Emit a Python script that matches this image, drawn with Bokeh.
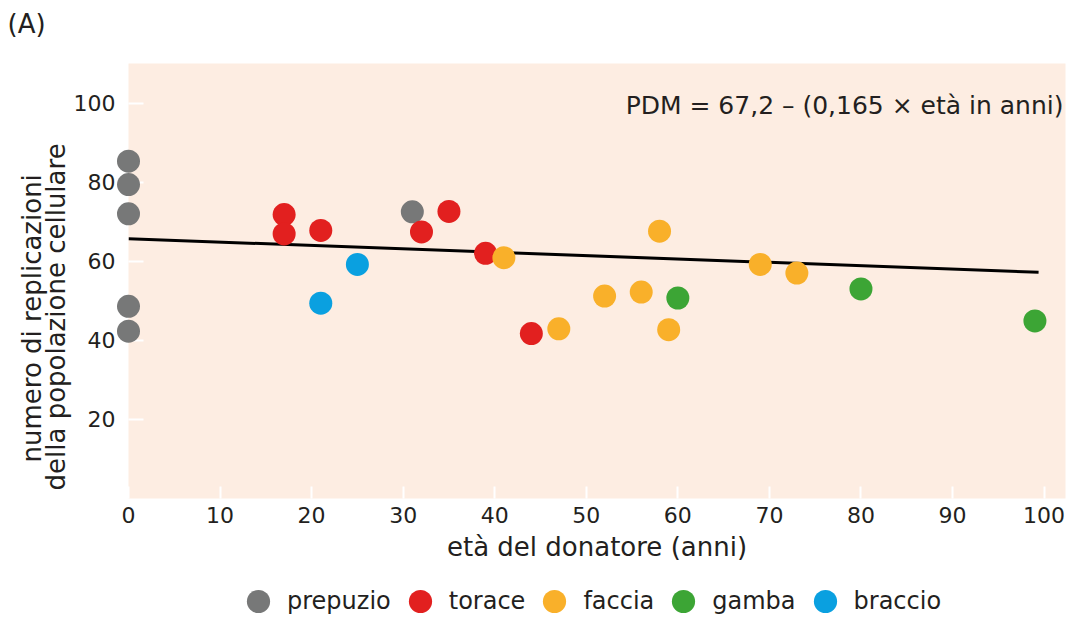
from bokeh.plotting import figure
from bokeh.layouts import column
from bokeh.models import Label, Legend, LegendItem, Range1d, FixedTicker, Title
from bokeh.embed import file_html
from bokeh.resources import INLINE

# ---- data ----
prepuzio_x = [0, 0, 0, 0, 0, 31]
prepuzio_y = [85.3, 79.4, 72.0, 48.6, 42.3, 72.5]
torace_x = [17, 17, 21, 32, 35, 39, 44]
torace_y = [71.8, 66.9, 67.8, 67.4, 72.6, 62.0, 41.7]
faccia_x = [41, 47, 52, 56, 58, 59, 69, 73]
faccia_y = [60.9, 42.9, 51.2, 52.2, 67.6, 42.7, 59.2, 57.0]
gamba_x = [60, 80, 99]
gamba_y = [50.7, 53.0, 44.9]
braccio_x = [21, 25]
braccio_y = [49.4, 59.2]
fit_x = [0, 99.4]
fit_y = [65.7, 57.2]
x_ticks = [0, 10, 20, 30, 40, 50, 60, 70, 80, 90, 100]
y_ticks = [20, 40, 60, 80, 100]
categories = ["prepuzio", "torace", "faccia", "gamba", "braccio"]
colors = ["#777878", "#e2201f", "#f9b02a", "#3ca535", "#0aa0e0"]

FONT = "DejaVu Sans"
TXT = "#231f20"
FS = "22px"
FT = "26px"
W = 1067


def title(text, **kw):
    return Title(text=text, text_font=FONT, text_font_size=kw.pop("size", FT),
                 text_font_style="normal", text_color=TXT, **kw)


def strip(height, top_border=0):
    f = figure(width=W, height=height, output_backend="svg", toolbar_location=None,
               x_range=Range1d(0, 1), y_range=Range1d(0, 1),
               x_axis_location=None, y_axis_location=None,
               min_border_left=0, min_border_right=0,
               min_border_top=top_border, min_border_bottom=0)
    f.outline_line_color = None
    f.grid.visible = False
    f.background_fill_color = "white"
    f.border_fill_color = "white"
    return f


# ---- top strip with the panel letter ----
top = strip(40, top_border=38)
top.title = title("(A)", align="left", offset=-121, standoff=0)

# ---- main chart ----
p = figure(width=W, height=532, output_backend="svg", toolbar_location=None,
           x_range=Range1d(0, 102.34), y_range=Range1d(0, 110),
           min_border_left=128, min_border_right=2, min_border_top=23, min_border_bottom=74)
p.background_fill_color = "#fdede2"
p.border_fill_color = "white"
p.outline_line_color = None
p.grid.visible = False

for ax in (p.xaxis[0], p.yaxis[0]):
    ax.axis_line_color = None
    ax.major_tick_line_color = "white"
    ax.major_tick_line_width = 2
    ax.major_tick_out = 0
    ax.minor_tick_line_color = None
    ax.major_label_text_font = FONT
    ax.major_label_text_font_size = FS
    ax.major_label_text_color = TXT

p.xaxis.ticker = FixedTicker(ticks=x_ticks)
p.yaxis.ticker = FixedTicker(ticks=y_ticks)
p.xaxis.major_tick_in = 12
p.yaxis.major_tick_in = 15
p.yaxis.major_label_standoff = 13
p.xaxis.major_label_standoff = 8
p.xaxis.axis_label = "età del donatore (anni)"
p.xaxis.axis_label_text_font = FONT
p.xaxis.axis_label_text_font_size = FT
p.xaxis.axis_label_text_font_style = "normal"
p.xaxis.axis_label_text_color = TXT
p.xaxis.axis_label_standoff = 6

# y-axis label: two stacked titles in the left panel
p.add_layout(title("della popolazione cellulare", align="left", offset=8, standoff=0), "left")
p.add_layout(title("numero di replicazioni", align="left", offset=36, standoff=-16), "left")

p.line(fit_x, fit_y, line_color="black", line_width=3)

S = 23
series = [(prepuzio_x, prepuzio_y), (torace_x, torace_y), (faccia_x, faccia_y),
          (gamba_x, gamba_y), (braccio_x, braccio_y)]
for (xs, ys), c in zip(series, colors):
    p.scatter(xs, ys, size=S, fill_color=c, line_color=None, level="annotation")

p.add_layout(Label(x=102.12, y=99.4, text="PDM = 67,2 – (0,165 × età in anni)",
                   text_align="right", text_baseline="middle", text_font=FONT,
                   text_font_size="25px", text_color=TXT))

# ---- legend strip ----
bot = strip(45, top_border=13)
items = []
for cat, (xs, ys), c in zip(categories, series, colors):
    r = bot.scatter(xs, ys, size=S, fill_color=c, line_color=None, visible=False)
    items.append(LegendItem(label=cat, renderers=[r]))
legend = Legend(items=items, orientation="horizontal", location=(101, -13),
                glyph_width=58, glyph_height=58, label_standoff=0, spacing=0,
                padding=0, margin=0, border_line_color=None, background_fill_alpha=0,
                label_text_font=FONT, label_text_font_size="24px", label_text_color=TXT)
bot.add_layout(legend)

layout = column(top, p, bot, spacing=0)
open("out.html", "w").write(file_html(layout, INLINE))
